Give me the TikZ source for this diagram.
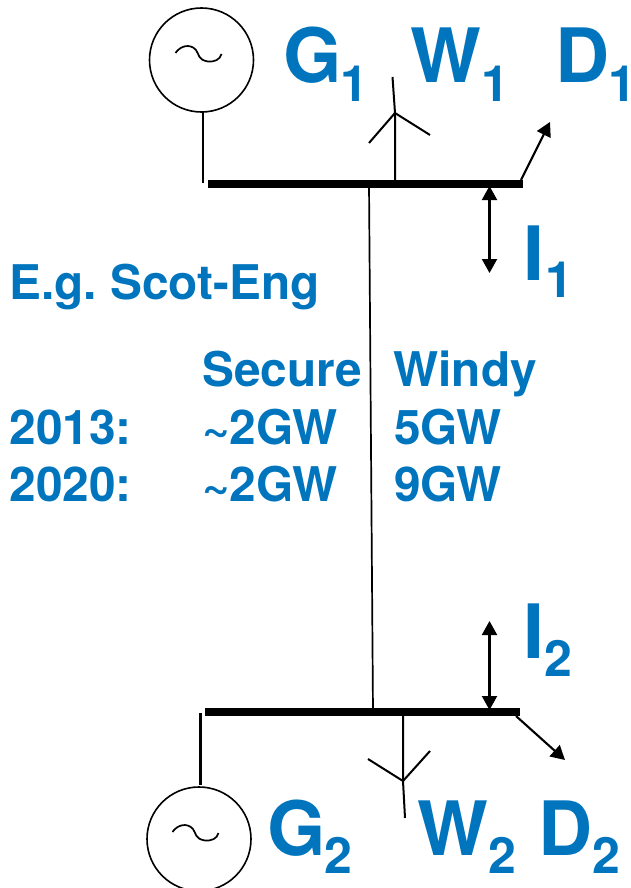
\documentclass[tikz,border=0pt]{standalone}
\usepackage{fontspec}
\setmainfont{TeX Gyre Heros}
\usetikzlibrary{arrows.meta}
\definecolor{lblue}{RGB}{0,117,190}
\frenchspacing
\tikzset{
 lbl/.style={anchor=base west,inner sep=0pt,outer sep=0pt,text=lblue,font=\bfseries\fontsize{75}{75}\selectfont},
 subl/.style={anchor=base west,inner sep=0pt,outer sep=0pt,text=lblue,font=\bfseries\fontsize{50}{50}\selectfont},
 txt/.style={anchor=base west,inner sep=0pt,outer sep=0pt,text=lblue,font=\bfseries\fontsize{47.8}{47.8}\selectfont},
 bus/.style={line width=8pt,black},
 wire/.style={line width=2pt,black},
 thin wire/.style={line width=1.7pt,black},
 gen/.style={circle,draw=black,line width=1.6pt,minimum size=104pt,inner sep=0pt},
 arr/.style={line width=2.1pt,-{Triangle[length=14pt,width=15pt]}},
 darr/.style={line width=2.1pt,{Triangle[length=14pt,width=15pt]}-{Triangle[length=14pt,width=15pt]}},
}
\begin{document}
\begin{tikzpicture}[x=1pt,y=-1pt]
\useasboundingbox (0,0) rectangle (630,888);
% buses
\coordinate (b1w) at (208,184); \coordinate (b1e) at (523,184);
\coordinate (b2w) at (205,712); \coordinate (b2e) at (520,712);
\draw[bus] (b1w) -- (b1e);
\draw[bus] (b2w) -- (b2e);
% line between buses
\coordinate (l1) at (369,184); \coordinate (l2) at (373,712);
\draw[thin wire] (l1) -- (l2);
% generators
\node[gen] (g1) at (201.5,60) {};
\node[gen] (g2) at (199,839) {};
\coordinate (g1t) at (203,183);
\coordinate (g1b) at (203,112);
\coordinate (g2t) at (200.5,713);
\coordinate (g2b) at (200.5,785);
\draw[wire] (g1b) -- (g1t);
\draw[line width=2.6pt] (g2t) -- (g2b);
% sine glyphs
\draw[thin wire] (175.5,53) .. controls (180,46) and (190,43) .. (196,50) .. controls (199,54) and (198,60) .. (208,61.5) .. controls (214,62) and (220,60) .. (221.5,54);
\draw[thin wire] (172.5,832) .. controls (177,825) and (187,822) .. (193,829) .. controls (196,833) and (195,839) .. (205,840.5) .. controls (211,841) and (217,839) .. (218.5,833);
% turbine 1
\coordinate (w1h) at (395,113);
\draw[wire] (395,180) -- (w1h) -- (392.5,77);
\draw[wire] (369,143) -- (w1h) -- (430,135);
% turbine 2
\coordinate (w2h) at (403,781);
\draw[wire] (403,716) -- (w2h) -- (405,818);
\draw[wire] (368,759) -- (w2h) -- (430,751);
% loads
\draw[arr] (521,180) -- (550,122);
\draw[arr] (516,716) -- (565,760);
% injections
\draw[darr] (489.5,186) -- (489.5,273);
\draw[darr] (489.5,621) -- (489.5,710);
% labels
\node[lbl] (tg1) at (283,83) {G};
\node[subl] (sg1) at (340,101.5) {1};
\node[lbl] (tw1) at (410.5,83) {W};
\node[subl] (sw1) at (481,101.5) {1};
\node[lbl] (td1) at (555,83) {D};
\node[subl] (sd1) at (608,101.5) {\makebox[21pt][l]{1}};
\node[lbl] (ti1) at (523,280) {I};
\node[subl] (si1) at (545,297) {1};
\node[lbl] (ti2) at (523,658) {I};
\node[subl] (si2) at (544,676) {2};
\node[lbl] (tg2) at (267,855) {G};
\node[subl] (sg2) at (324,873) {2};
\node[lbl] (tw2) at (417.5,855) {W};
\node[subl] (sw2) at (488,873) {2};
\node[lbl] (td2) at (538,855) {D};
\node[subl] (sd2) at (592,873) {2};
\node[txt] (eg) at (9.5,299.5) {E.g. Scot-Eng};
\node[txt] (sec) at (202.5,386.5) {Secure};
\node[txt] (win) at (393.5,386.5) {Windy};
\node[txt] (y13) at (9.5,444.5) {2013:};
\node[txt] (a13) at (202,444.5) {\textasciitilde 2GW};
\node[txt] (b13) at (394,444.5) {5GW};
\node[txt] (y20) at (9.5,501.5) {2020:};
\node[txt] (a20) at (202,501.5) {\textasciitilde 2GW};
\node[txt] (b20) at (394,501.5) {9GW};
\end{tikzpicture}
\end{document}
